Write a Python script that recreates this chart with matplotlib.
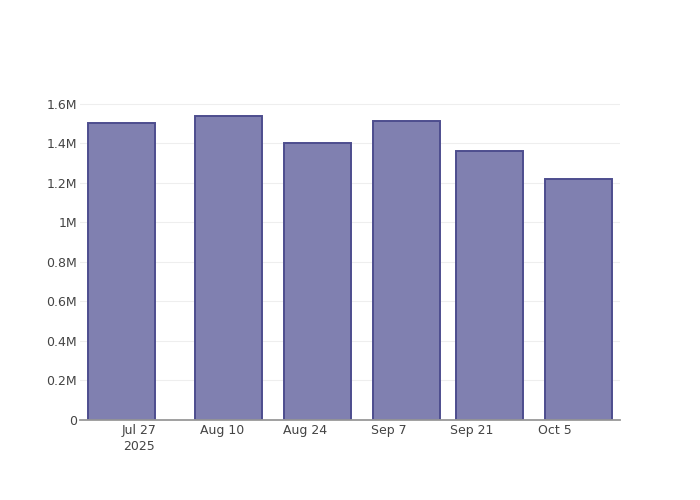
import matplotlib
matplotlib.use("Agg")
import matplotlib.pyplot as plt
import matplotlib.dates as mdates
import numpy as np
import datetime as dt

dates = ["2025-07-24", "2025-08-11", "2025-08-26", "2025-09-10", "2025-09-24", "2025-10-09"]
values = [1505000, 1540000, 1400000, 1515000, 1362000, 1220000]
tick_dates = ["2025-07-27", "2025-08-10", "2025-08-24", "2025-09-07", "2025-09-21", "2025-10-05"]
tick_labels = ["Jul 27\n2025", "Aug 10", "Aug 24", "Sep 7", "Sep 21", "Oct 5"]
y_ticks = [0, 200000, 400000, 600000, 800000, 1000000, 1200000, 1400000, 1600000]
y_tick_labels = ["0", "0.2M", "0.4M", "0.6M", "0.8M", "1M", "1.2M", "1.4M", "1.6M"]

plt.rcParams['font.family'] = ['DejaVu Sans']

x = [mdates.date2num(dt.datetime.fromisoformat(d)) for d in dates]
xt = [mdates.date2num(dt.datetime.fromisoformat(d)) for d in tick_dates]

fig = plt.figure(figsize=(7, 5), dpi=100)
ax = fig.add_axes([80/700, 80/500, 540/700, 320/500])

min_gap = np.min(np.diff(x))
ax.bar(x, values, width=0.8*min_gap, color='#8080b0', edgecolor='#4d4d8e', linewidth=1.4, zorder=3)

ax.set_xlim(x[0] - 0.5*min_gap, x[-1] + 0.5*min_gap)
ax.set_ylim(0, max(values) * 1.052)

ax.set_xticks(xt)
ax.set_xticklabels(tick_labels, fontsize=9, color='#444444', linespacing=1.25)
ax.set_yticks(y_ticks)
ax.set_yticklabels(y_tick_labels, fontsize=9, color='#444444')
ax.tick_params(axis='both', length=0)
ax.tick_params(axis='x', pad=3)
ax.tick_params(axis='y', pad=2)

for s in ['top', 'right', 'left']:
    ax.spines[s].set_visible(False)
ax.spines['bottom'].set_color('#999999')
ax.spines['bottom'].set_linewidth(1.3)
ax.spines['bottom'].set_zorder(4)

for yv in y_ticks[1:]:
    ax.axhline(yv, color='#eeeeee', linewidth=0.8, zorder=1)

fig.savefig('out.png', dpi=100)
